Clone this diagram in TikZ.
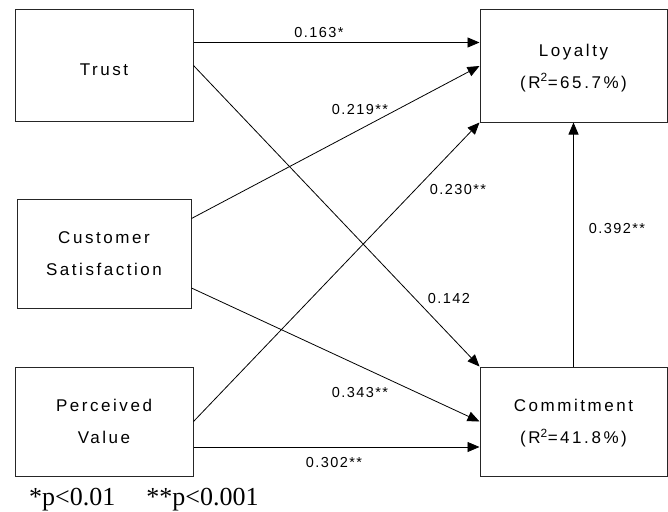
\documentclass[tikz,border=0pt]{standalone}
\usepackage{fontspec}
\setmainfont{Liberation Sans}
\newfontfamily\boxfont[LetterSpace=15]{Liberation Sans}
\newfontfamily\labfont[LetterSpace=10]{Liberation Sans}
\newfontfamily\notefont{Liberation Serif}
\usetikzlibrary{arrows.meta}
\begin{document}
\begin{tikzpicture}[x=1pt,y=-1pt,
  vbox/.style={draw=black!85,line width=1pt,rectangle,inner sep=0pt,align=center,
    font=\boxfont\fontsize{17}{32}\selectfont,text depth=0pt},
  conn/.style={draw=black,line width=0.8pt,-{Triangle[length=12pt,width=10pt]}},
  lab/.style={inner sep=0pt,font=\labfont\fontsize{14.5}{16}\selectfont}]
\useasboundingbox (0,0) rectangle (668,511);
\node[vbox,minimum width=178pt,minimum height=111pt] (trust) at (104,65.5) {\rule{0pt}{19pt}Trust};
\node[vbox,minimum width=174pt,minimum height=109pt] (cs) at (104,253.5) {Customer\\Satisfaction};
\node[vbox,minimum width=178pt,minimum height=109pt] (pv) at (104,421.5) {Perceived\\Value};
\node[vbox,minimum width=187pt,minimum height=112pt] (loy) at (573.5,66) {Loyalty\\(R\textsuperscript{2}=65.7\%)};
\node[vbox,minimum width=187pt,minimum height=109pt] (com) at (573.5,421.5) {Commitment\\(R\textsuperscript{2}=41.8\%)};
\draw[conn] ([yshift=-33pt]trust.north east) -- ([yshift=-33pt]loy.north west);
\draw[conn] (trust.east) -- (com.north west);
\draw[conn] ([yshift=-20pt]cs.north east) -- (loy.west);
\draw[conn] ([yshift=-34.5pt]cs.east) -- (com.west);
\draw[conn] (pv.east) -- (loy.south west);
\draw[conn] ([yshift=-25.5pt]pv.east) -- ([yshift=-25.5pt]com.west);
\draw[conn] (com.north) -- (loy.south);
\node[lab] (l1) at (319,33) {0.163*};
\node[lab] (l2) at (360,110) {0.219**};
\node[lab] (l3) at (458,190) {0.230**};
\node[lab] (l4) at (449,299) {0.142};
\node[lab] (l5) at (360,393) {0.343**};
\node[lab] (l6) at (334,463) {0.302**};
\node[lab] (l7) at (617,229) {0.392**};
\node[anchor=base west,inner sep=0pt,font=\notefont\fontsize{26}{30}\selectfont] (note) at (29,505) {*p<0.01\hspace{31pt}**p<0.001};
\end{tikzpicture}
\end{document}
